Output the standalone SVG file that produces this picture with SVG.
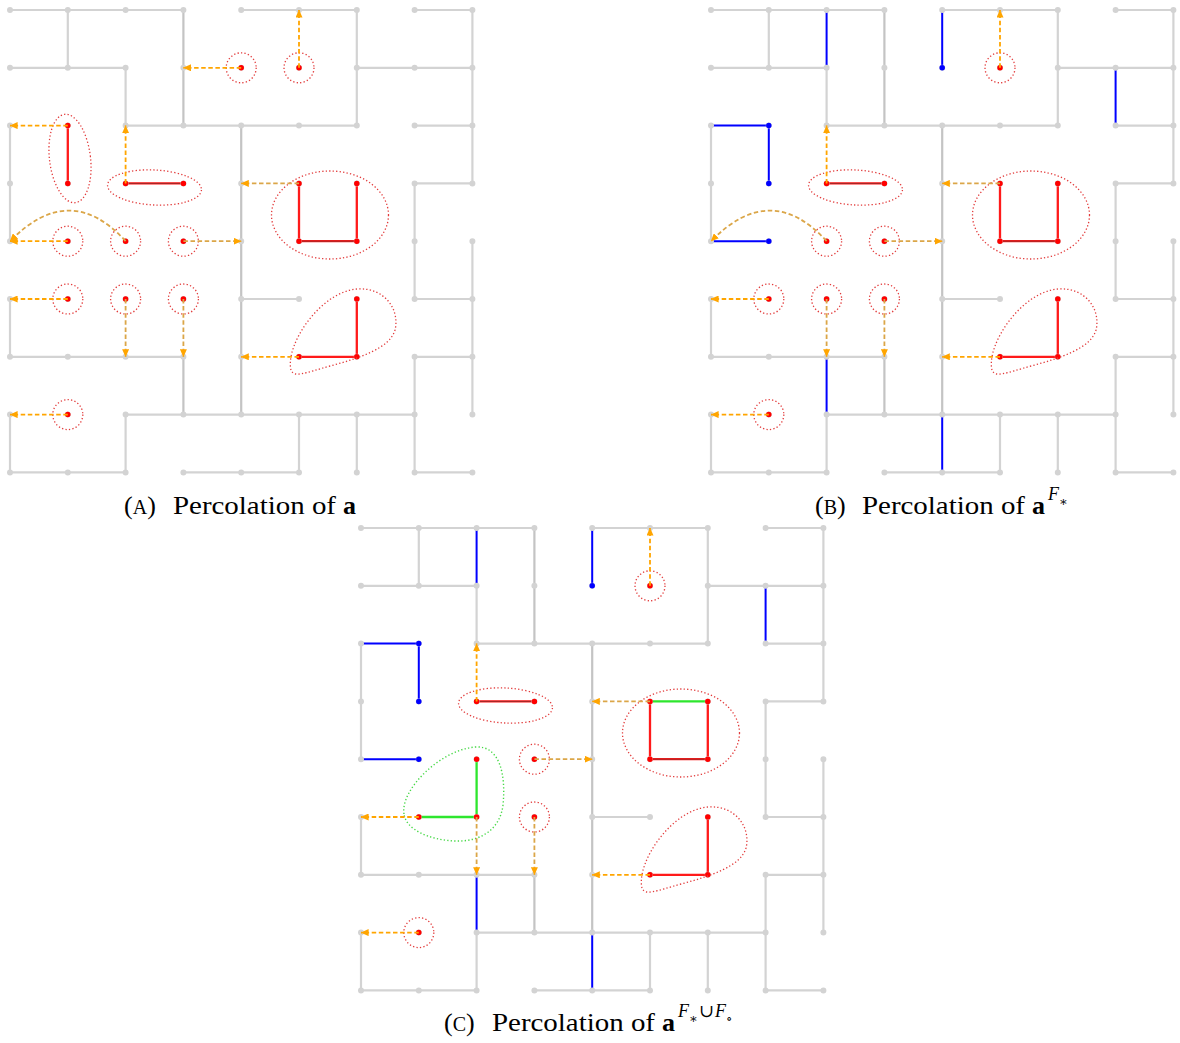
<svg xmlns="http://www.w3.org/2000/svg" width="1180" height="1043" viewBox="0 0 1180 1043">
<style>
.grey{fill:none;stroke:#d3d3d3;stroke-width:2.2}
.greyd{fill:none;stroke:#c4c4c4;stroke-width:2.2}
.gdot{fill:none;stroke:#d3d3d3;stroke-width:6;stroke-linecap:round}
.red{fill:none;stroke:#ff1a1a;stroke-width:2.3}
.dred{fill:none;stroke:#a02828;stroke-width:1}
.blue{fill:none;stroke:#0000ff;stroke-width:2}
.green{fill:none;stroke:#2ee62e;stroke-width:2.3}
.rdot{fill:none;stroke:#ff0000;stroke-width:5.5;stroke-linecap:round}
.bdot{fill:none;stroke:#0000ff;stroke-width:5.5;stroke-linecap:round}
.ring{fill:none;stroke:#e23b3b;stroke-width:1.3;stroke-dasharray:1.3 2.2}
.gring{fill:none;stroke:#45d845;stroke-width:1.4;stroke-dasharray:1.3 2.2}
.arr{fill:none;stroke:#ffa500;stroke-width:1.8;stroke-dasharray:4.5 2.6;marker-end:url(#ah)}
.arr2{stroke:#dba648}
.cap{font-family:"Liberation Serif","DejaVu Serif",serif;font-size:26px;fill:#000}
</style>
<defs>
<marker id="ah" viewBox="0 0 8 7" refX="7.6" refY="3.5" markerWidth="8" markerHeight="7" markerUnits="userSpaceOnUse" orient="auto"><path d="M0 0L8 3.5L0 7z" fill="#ffa500"/></marker>
<path id="gridedges" d="M10 10H183.4M241.2 10H356.8M414.6 10H472.4M10 67.8H125.6M356.8 67.8H472.4M125.6 125.6H356.8M414.6 125.6H472.4M414.6 183.4H472.4M241.2 299H299M414.6 299H472.4M10 356.8H183.4M414.6 356.8H472.4M125.6 414.6H414.6M10 472.4H125.6M183.4 472.4H299M414.6 472.4H472.4M10 125.6V241.2M10 299V356.8M10 414.6V472.4M67.8 10V67.8M125.6 67.8V125.6M125.6 414.6V472.4M299 414.6V472.4M356.8 10V125.6M356.8 414.6V472.4M414.6 183.4V299M414.6 356.8V472.4M472.4 10V183.4M472.4 241.2V414.6"/>
<path id="gridedgesd" d="M183.4 10V125.6M183.4 356.8V414.6M241.2 125.6V414.6"/>
<path id="griddots" d="M10 10h0m57.8 0h0m57.8 0h0m57.8 0h0m57.8 0h0m57.8 0h0m57.8 0h0m57.8 0h0m57.8 0h0M10 67.8h0m57.8 0h0m57.8 0h0m57.8 0h0m57.8 0h0m57.8 0h0m57.8 0h0m57.8 0h0m57.8 0h0M10 125.6h0m57.8 0h0m57.8 0h0m57.8 0h0m57.8 0h0m57.8 0h0m57.8 0h0m57.8 0h0m57.8 0h0M10 183.4h0m57.8 0h0m57.8 0h0m57.8 0h0m57.8 0h0m57.8 0h0m57.8 0h0m57.8 0h0m57.8 0h0M10 241.2h0m57.8 0h0m57.8 0h0m57.8 0h0m57.8 0h0m57.8 0h0m57.8 0h0m57.8 0h0m57.8 0h0M10 299h0m57.8 0h0m57.8 0h0m57.8 0h0m57.8 0h0m57.8 0h0m57.8 0h0m57.8 0h0m57.8 0h0M10 356.8h0m57.8 0h0m57.8 0h0m57.8 0h0m57.8 0h0m57.8 0h0m57.8 0h0m57.8 0h0m57.8 0h0M10 414.6h0m57.8 0h0m57.8 0h0m57.8 0h0m57.8 0h0m57.8 0h0m57.8 0h0m57.8 0h0m57.8 0h0M10 472.4h0m57.8 0h0m57.8 0h0m57.8 0h0m57.8 0h0m57.8 0h0m57.8 0h0m57.8 0h0m57.8 0h0"/>
<path id="teardrop" d="M291 370C285 345 320 292 357 289C385 287 400 310 395 330C390 348 360 358 330 366C305 373 294 378 291 370Z"/>
</defs>

<!-- Panel A -->
<g id="panel-a">
  <g id="a-edges">
    <use href="#gridedges" class="grey"/>
    <use href="#gridedgesd" class="greyd"/>
    <path class="red" d="M67.8 125.6V183.4M299 183.4V241.2M356.8 183.4V241.2M356.8 299V356.8M299 356.8H356.8M125.6 183.4H183.4M299 241.2H356.8"/>
    <path class="dred" d="M125.6 183.4H183.4M299 241.2H356.8"/>
  </g>
  <g id="a-nodes">
    <use href="#griddots" class="gdot"/>
    <path class="rdot" d="M241.2 67.8h0M299 67.8h0M67.8 125.6h0M67.8 183.4h0M125.6 183.4h0M183.4 183.4h0M299 183.4h0M356.8 183.4h0M67.8 241.2h0M125.6 241.2h0M183.4 241.2h0M299 241.2h0M356.8 241.2h0M67.8 299h0M125.6 299h0M183.4 299h0M356.8 299h0M299 356.8h0M356.8 356.8h0M67.8 414.6h0"/>
  </g>
  <g id="a-clusters">
    <circle class="ring" cx="241.2" cy="67.8" r="15"/>
    <circle class="ring" cx="299" cy="67.8" r="15"/>
    <circle class="ring" cx="67.8" cy="241.2" r="15"/>
    <circle class="ring" cx="125.6" cy="241.2" r="15"/>
    <circle class="ring" cx="183.4" cy="241.2" r="15"/>
    <circle class="ring" cx="67.8" cy="299" r="15"/>
    <circle class="ring" cx="125.6" cy="299" r="15"/>
    <circle class="ring" cx="183.4" cy="299" r="15"/>
    <circle class="ring" cx="67.8" cy="414.6" r="15"/>
    <ellipse class="ring" cx="70" cy="158.5" rx="20.5" ry="44.5" transform="rotate(-7 70 158.5)"/>
    <ellipse class="ring" cx="154.5" cy="187.5" rx="47" ry="17.5" transform="rotate(3 154.5 187.5)"/>
    <ellipse class="ring" cx="330" cy="215" rx="58.5" ry="44"/>
    <use href="#teardrop" class="ring"/>
  </g>
  <g id="a-connectors">
    <path class="arr" d="M241.2 67.8H183.4"/>
    <path class="arr" d="M299 67.8V10"/>
    <path class="arr" d="M67.8 125.6H10"/>
    <path class="arr" d="M125.6 183.4V125.6"/>
    <path class="arr arr2" d="M299 183.4H241.2"/>
    <path class="arr" d="M67.8 241.2H10"/>
    <path class="arr arr2" d="M125.6 241.2Q70 180 10 241.2"/>
    <path class="arr arr2" d="M183.4 241.2H241.2"/>
    <path class="arr" d="M67.8 299H10"/>
    <path class="arr arr2" d="M125.6 299V356.8"/>
    <path class="arr arr2" d="M183.4 299V356.8"/>
    <path class="arr" d="M67.8 414.6H10"/>
    <path class="arr" d="M299 356.8H241.2"/>
  </g>
</g>

<!-- Panel B -->
<g id="panel-b" transform="translate(701,0)">
  <g id="b-edges">
    <use href="#gridedges" class="grey"/>
    <use href="#gridedgesd" class="greyd"/>
    <path class="blue" d="M125.6 10V67.8M241.2 10V67.8M10 125.6H67.8V183.4M10 241.2H67.8M414.6 67.8V125.6M125.6 356.8V414.6M241.2 414.6V472.4"/>
    <path class="red" d="M299 183.4V241.2M356.8 183.4V241.2M356.8 299V356.8M299 356.8H356.8M125.6 183.4H183.4M299 241.2H356.8"/>
    <path class="dred" d="M125.6 183.4H183.4M299 241.2H356.8"/>
  </g>
  <g id="b-nodes">
    <use href="#griddots" class="gdot"/>
    <path class="bdot" d="M241.2 67.8h0M67.8 125.6h0M67.8 183.4h0M67.8 241.2h0"/>
    <path class="rdot" d="M299 67.8h0M125.6 183.4h0M183.4 183.4h0M299 183.4h0M356.8 183.4h0M125.6 241.2h0M183.4 241.2h0M299 241.2h0M356.8 241.2h0M67.8 299h0M125.6 299h0M183.4 299h0M356.8 299h0M299 356.8h0M356.8 356.8h0M67.8 414.6h0"/>
  </g>
  <g id="b-clusters">
    <circle class="ring" cx="299" cy="67.8" r="15"/>
    <circle class="ring" cx="125.6" cy="241.2" r="15"/>
    <circle class="ring" cx="183.4" cy="241.2" r="15"/>
    <circle class="ring" cx="67.8" cy="299" r="15"/>
    <circle class="ring" cx="125.6" cy="299" r="15"/>
    <circle class="ring" cx="183.4" cy="299" r="15"/>
    <circle class="ring" cx="67.8" cy="414.6" r="15"/>
    <ellipse class="ring" cx="154.5" cy="187.5" rx="47" ry="17.5" transform="rotate(3 154.5 187.5)"/>
    <ellipse class="ring" cx="330" cy="215" rx="58.5" ry="44"/>
    <use href="#teardrop" class="ring"/>
  </g>
  <g id="b-connectors">
    <path class="arr" d="M299 67.8V10"/>
    <path class="arr" d="M125.6 183.4V125.6"/>
    <path class="arr arr2" d="M299 183.4H241.2"/>
    <path class="arr arr2" d="M125.6 241.2Q70 180 10 241.2"/>
    <path class="arr arr2" d="M183.4 241.2H241.2"/>
    <path class="arr" d="M67.8 299H10"/>
    <path class="arr arr2" d="M125.6 299V356.8"/>
    <path class="arr arr2" d="M183.4 299V356.8"/>
    <path class="arr" d="M67.8 414.6H10"/>
    <path class="arr" d="M299 356.8H241.2"/>
  </g>
</g>

<!-- Panel C -->
<g id="panel-c" transform="translate(351,518)">
  <g id="c-edges">
    <use href="#gridedges" class="grey"/>
    <use href="#gridedgesd" class="greyd"/>
    <path class="blue" d="M125.6 10V67.8M241.2 10V67.8M10 125.6H67.8V183.4M10 241.2H67.8M414.6 67.8V125.6M125.6 356.8V414.6M241.2 414.6V472.4"/>
    <path class="red" d="M299 183.4V241.2M356.8 183.4V241.2M356.8 299V356.8M299 356.8H356.8M125.6 183.4H183.4M299 241.2H356.8"/>
    <path class="dred" d="M125.6 183.4H183.4M299 241.2H356.8"/>
    <path class="green" d="M299 183.4H356.8M125.6 241.2V299M67.8 299H125.6"/>
  </g>
  <g id="c-nodes">
    <use href="#griddots" class="gdot"/>
    <path class="bdot" d="M241.2 67.8h0M67.8 125.6h0M67.8 183.4h0M67.8 241.2h0"/>
    <path class="rdot" d="M299 67.8h0M125.6 183.4h0M183.4 183.4h0M299 183.4h0M356.8 183.4h0M125.6 241.2h0M183.4 241.2h0M299 241.2h0M356.8 241.2h0M67.8 299h0M125.6 299h0M183.4 299h0M356.8 299h0M299 356.8h0M356.8 356.8h0M67.8 414.6h0"/>
  </g>
  <g id="c-clusters">
    <circle class="ring" cx="299" cy="67.8" r="15"/>
    <circle class="ring" cx="183.4" cy="241.2" r="15"/>
    <circle class="ring" cx="183.4" cy="299" r="15"/>
    <circle class="ring" cx="67.8" cy="414.6" r="15"/>
    <ellipse class="ring" cx="154.5" cy="187.5" rx="47" ry="17.5" transform="rotate(3 154.5 187.5)"/>
    <ellipse class="ring" cx="330" cy="215" rx="58.5" ry="44"/>
    <use href="#teardrop" class="ring"/>
    <path class="gring" d="M53 296C49 272 89 232 124 229C149 227 155 257 152 287C149 312 129 324 104 323C79 322 55 312 53 296Z"/>
  </g>
  <g id="c-connectors">
    <path class="arr" d="M299 67.8V10"/>
    <path class="arr" d="M125.6 183.4V125.6"/>
    <path class="arr arr2" d="M299 183.4H241.2"/>
    <path class="arr arr2" d="M183.4 241.2H241.2"/>
    <path class="arr" d="M67.8 299H10"/>
    <path class="arr arr2" d="M125.6 299V356.8"/>
    <path class="arr arr2" d="M183.4 299V356.8"/>
    <path class="arr" d="M67.8 414.6H10"/>
    <path class="arr" d="M299 356.8H241.2"/>
  </g>
</g>

<!-- Captions -->
<g id="captions" class="cap">
  <text x="124" y="514">(<tspan font-size="20">A</tspan>)</text>
  <text x="173" y="514" textLength="163" lengthAdjust="spacingAndGlyphs">Percolation of</text>
  <text x="343" y="514" font-weight="bold">a</text>

  <text x="815" y="514">(<tspan font-size="20">B</tspan>)</text>
  <text x="862" y="514" textLength="163" lengthAdjust="spacingAndGlyphs">Percolation of</text>
  <text x="1032" y="514" font-weight="bold">a</text>
  <text x="1048" y="500" font-size="18" font-style="italic">F</text>
  <text x="1059" y="506" font-size="13">∗</text>

  <text x="444" y="1031">(<tspan font-size="20">C</tspan>)</text>
  <text x="492" y="1031" textLength="163" lengthAdjust="spacingAndGlyphs">Percolation of</text>
  <text x="662" y="1031" font-weight="bold">a</text>
  <text x="678" y="1017" font-size="18" font-style="italic">F</text>
  <text x="689" y="1023" font-size="13">∗</text>
  <text x="699" y="1017" font-size="18">∪</text>
  <text x="715" y="1017" font-size="18" font-style="italic">F</text>
  <text x="726" y="1023" font-size="13">∘</text>
</g>
</svg>
